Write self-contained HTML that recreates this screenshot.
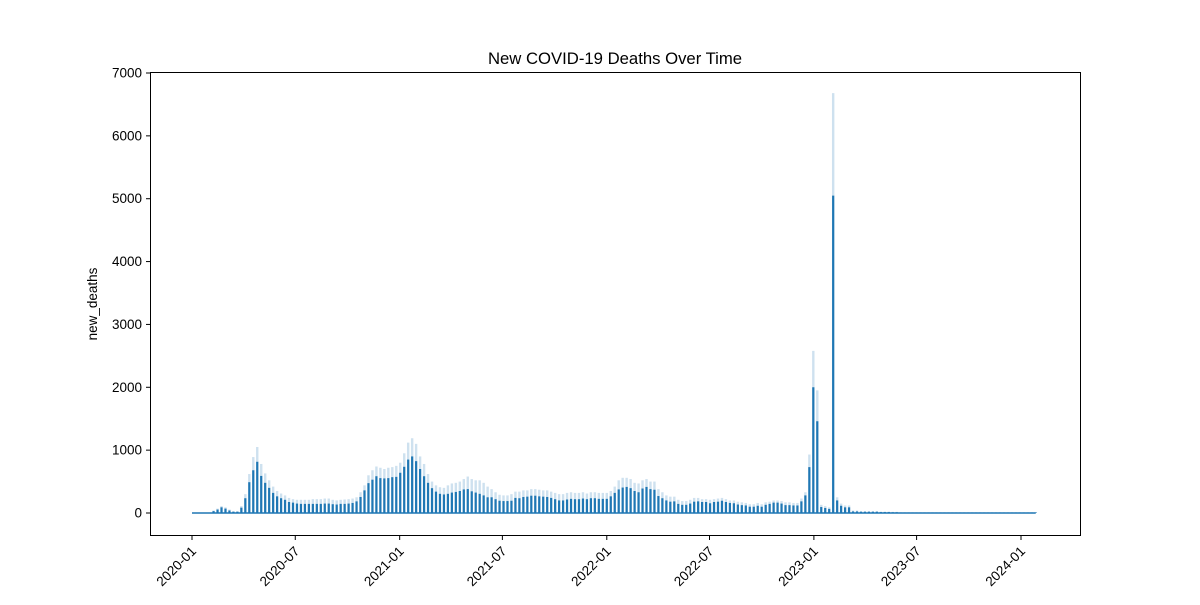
<!DOCTYPE html>
<html><head><meta charset="utf-8"><style>
body{margin:0;background:#fff;font-family:"Liberation Sans",sans-serif;}
</style></head><body>
<svg id="chart" width="1200" height="600" xmlns="http://www.w3.org/2000/svg">
<rect width="1200" height="600" fill="#fff"/>
<text x="615" y="64" font-size="16.7" text-anchor="middle">New COVID-19 Deaths Over Time</text>
<g id="marks"></g>
<g id="axes"></g>
<rect x="150.5" y="72.5" width="930" height="463" fill="none" stroke="#000" stroke-width="1"/>
<text transform="translate(97,304) rotate(-90)" font-size="13.5" text-anchor="middle">new_deaths</text>
</svg>
<script>
const startDate = "2020-01-01";
const weeklyDeaths = [0,0,0,0,0,
30,55,90,70,40,20,20,85,235,490,680,815,590,480,400,320,265,235,210,175,165,150,
145,145,145,145,145,145,150,150,140,135,145,145,150,160,185,255,
360,475,530,585,555,550,555,570,575,640,735,850,900,825,700,585,480,395,340,305,295,305,325,335,350,375,380,345,325,305,280,250,250,220,195,190,190,195,240,235,255,260,275,275,265,260,255,240,220,200,200,215,225,220,220,230,220,235,235,225,225,225,265,320,375,
405,415,395,350,330,390,415,380,370,270,235,200,180,185,145,130,130,150,180,185,175,175,155,175,180,195,175,160,155,135,125,120,100,100,115,100,130,145,165,165,150,125,125,120,120,185,280,730,2000,1460,95,80,65,5050,200,115,90,90,25,25,
20,20,20,20,20,15,15,15,12,12,8,8,8,8,8,8,8,8,8,8,8,8,8,8,8,8,8,8,8,8,8,8,8,8,8,8,8,8,8,8,8,8,8,8,8];
const weeklyUpper = [0,0,0,0,0,
40,70,110,90,55,30,30,110,300,620,890,1050,780,630,520,420,350,310,280,240,220,210,
210,210,210,220,220,220,230,230,210,200,210,215,220,230,250,330,
440,600,680,740,720,700,720,730,750,800,950,1120,1190,1100,900,780,620,500,440,410,400,440,470,480,500,540,580,540,520,520,480,420,380,330,290,280,280,300,340,340,360,360,380,380,370,360,360,340,320,300,300,320,330,320,320,330,310,330,330,320,320,320,350,420,520,
560,560,540,480,470,520,540,500,500,380,330,280,260,260,210,190,190,210,240,240,220,220,210,220,230,240,220,200,200,180,170,160,140,140,160,140,170,180,200,200,190,170,170,160,160,230,330,930,2580,1950,130,110,90,6680,250,150,120,120,40,40,
30,30,30,30,30,22,22,22,18,18,12,12,12,12,12,12,12,12,12,12,12,12,12,12,12,12,12,12,12,12,12,12,12,12,12,12,12,12,12,12,12,12,12,12,12];
const yTicks = [0,1000,2000,3000,4000,5000,6000,7000];
const xTickLabels = ["2020-01","2020-07","2021-01","2021-07","2022-01","2022-07","2023-01","2023-07","2024-01"];

const NS="http://www.w3.org/2000/svg";
const t0 = Date.parse(startDate);
const dayMs = 86400000;
function xScale(days){ return 192 + days*(829/1461); }
function yScale(v){ return 513 - v*(440/7000); }
function xDate(s){ return xScale((Date.parse(s+"-01")-t0)/dayMs); }
function xWeek(i){ return xScale(i*7+3); }
function mk(tag, attrs, parent){ const e=document.createElementNS(NS,tag); for(const k in attrs) e.setAttribute(k,attrs[k]); parent.appendChild(e); return e; }
const marks=document.getElementById('marks'), axes=document.getElementById('axes');

weeklyUpper.forEach((v,i)=>{
  const x=xWeek(i);
  const l=mk('line',{x1:x,x2:x,y1:yScale(0),y2:yScale(v),stroke:'#1f77b4','stroke-opacity':0.22,'stroke-width':2.4},marks);
  
  
});
weeklyDeaths.forEach((v,i)=>{
  const x=xWeek(i);
  const l=mk('line',{x1:x,x2:x,y1:yScale(0),y2:yScale(v),stroke:'#1f77b4','stroke-width':2.2},marks);
  
  
});
const base=mk('line',{x1:xScale(0),x2:xWeek(weeklyDeaths.length-1),y1:yScale(0),y2:yScale(0),stroke:'#1f77b4','stroke-width':1.5},marks);



yTicks.forEach(v=>{
  const y=yScale(v);
  mk('line',{x1:146,x2:150,y1:y,y2:y,stroke:'#000'},axes);
  const t=mk('text',{x:142,y:y+4.5,'font-size':13.5,'text-anchor':'end'},axes);
  t.textContent=v;
  
  
});
xTickLabels.forEach(s=>{
  const x=xDate(s);
  mk('line',{x1:x,x2:x,y1:536,y2:540,stroke:'#000'},axes);
  const t=mk('text',{x:x+5,y:552,'font-size':13.5,'text-anchor':'end',transform:`rotate(-45 ${x+5} 552)`},axes);
  t.textContent=s;
  
  
});
</script>
</body></html>
